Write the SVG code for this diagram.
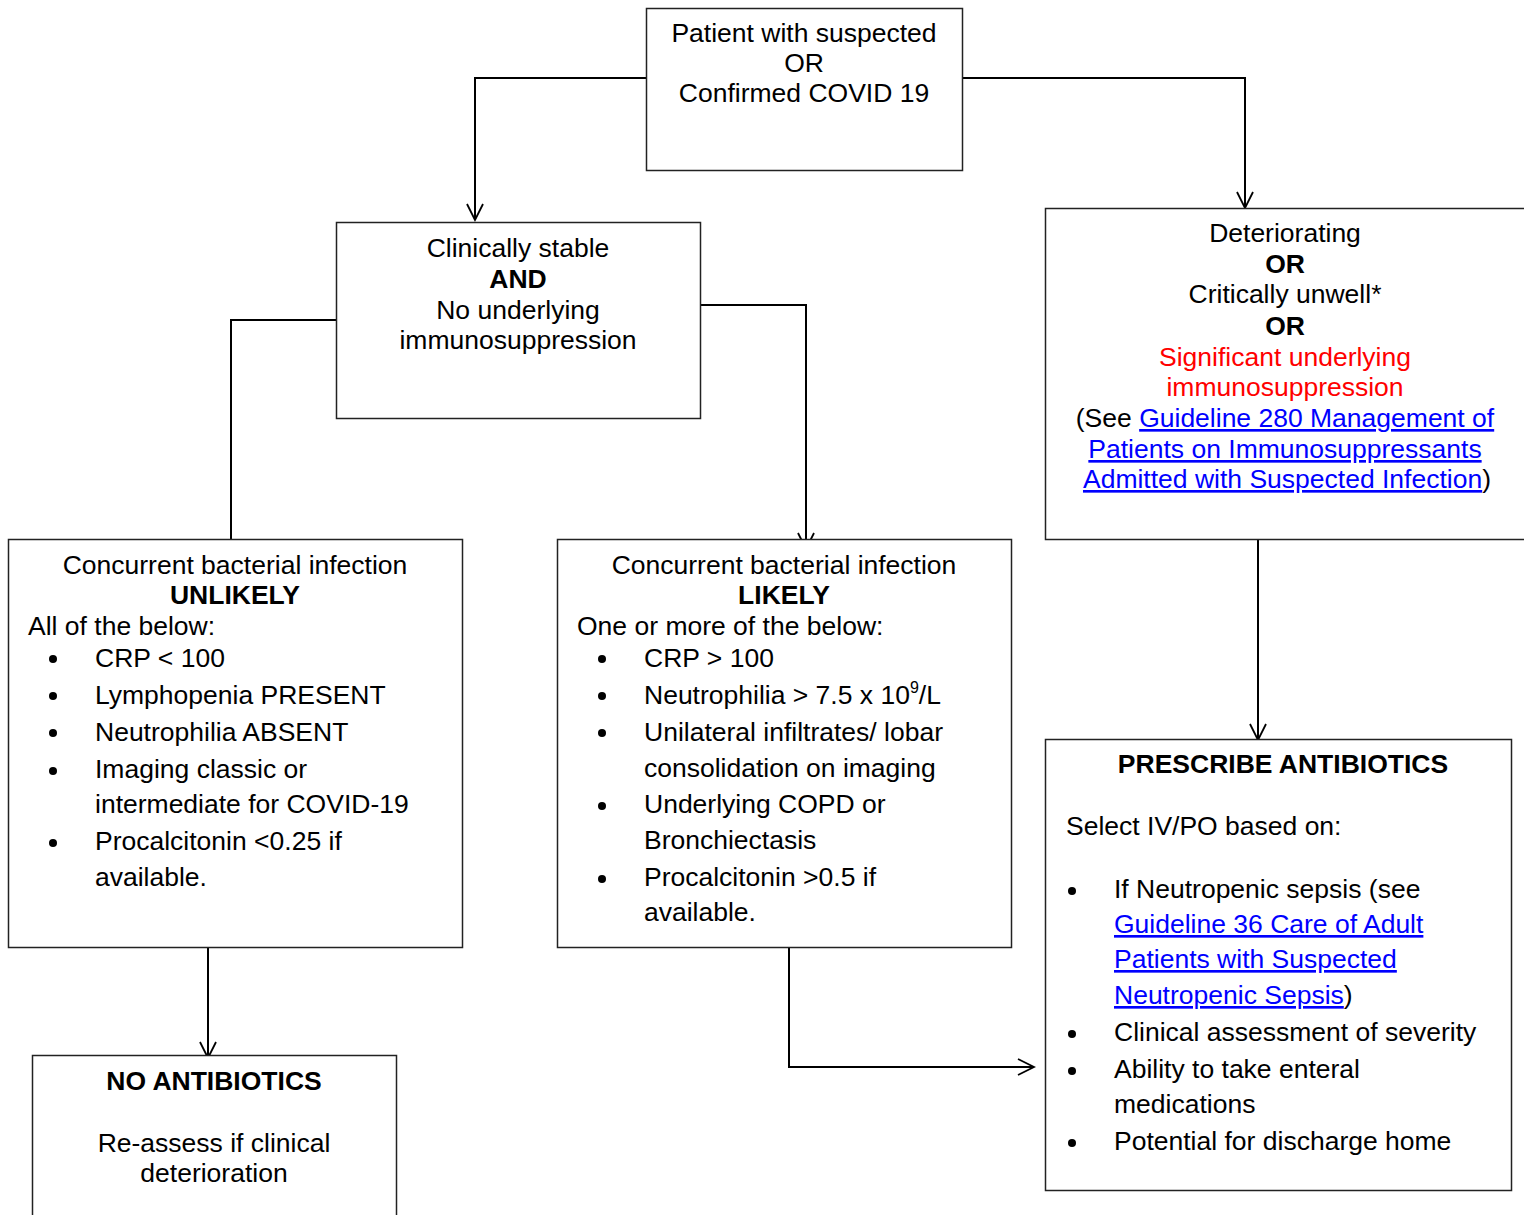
<svg xmlns="http://www.w3.org/2000/svg" width="1524" height="1215" viewBox="0 0 1524 1215">
<defs>
<style>
text{font-family:"Liberation Sans",Arial,sans-serif;font-size:26.5px;fill:#000}
.c{text-anchor:middle}
.b{font-weight:bold}
.red{fill:#FF0000}
.lk{fill:#0000FF;text-decoration:underline}
.box{fill:#fff;stroke:#222;stroke-width:1.5}
.ln{fill:none;stroke:#000;stroke-width:2}
.sup{font-size:16px}
</style>
<marker id="arr" viewBox="0 0 20 20" refX="18" refY="10" markerWidth="20" markerHeight="20" markerUnits="userSpaceOnUse" orient="auto">
<path d="M2,2 L18,10 L2,18" fill="none" stroke="#000" stroke-width="1.8"/>
</marker>
</defs>
<rect width="1524" height="1215" fill="#fff"/>
<g id="connectors">
<path class="ln" d="M646,78 H475 V220" marker-end="url(#arr)"/>
<path class="ln" d="M962,78 H1245 V208" marker-end="url(#arr)"/>
<path class="ln" d="M336,320 H231 V539"/>
<path class="ln" d="M700,305 H806 V549" marker-end="url(#arr)"/>
<path class="ln" d="M1258,539 V740" marker-end="url(#arr)"/>
<path class="ln" d="M208,947 V1058" marker-end="url(#arr)"/>
<path class="ln" d="M789,947 V1067 H1034" marker-end="url(#arr)"/>
</g>
<g id="start">
<rect class="box" x="646.5" y="8.5" width="316" height="162"/>
<text class="c" x="804" y="42">Patient with suspected</text>
<text class="c" x="804" y="72">OR</text>
<text class="c" x="804" y="102">Confirmed COVID 19</text>
</g>
<g id="stable">
<rect class="box" x="336.5" y="222.5" width="364" height="196"/>
<text class="c" x="518" y="257">Clinically stable</text>
<text class="c b" x="518" y="288">AND</text>
<text class="c" x="518" y="319">No underlying</text>
<text class="c" x="518" y="349">immunosuppression</text>
</g>
<g id="deteriorating">
<rect class="box" x="1045.5" y="208.5" width="490" height="331"/>
<text class="c" x="1285" y="242">Deteriorating</text>
<text class="c b" x="1285" y="273">OR</text>
<text class="c" x="1285" y="303">Critically unwell*</text>
<text class="c b" x="1285" y="335">OR</text>
<text class="c red" x="1285" y="366">Significant underlying</text>
<text class="c red" x="1285" y="396">immunosuppression</text>
<text class="c" x="1285" y="427">(See <tspan class="lk">Guideline 280 Management of</tspan></text>
<text class="c lk" x="1285" y="458">Patients on Immunosuppressants</text>
<text class="c" x="1287" y="488"><tspan class="lk">Admitted with Suspected Infection</tspan>)</text>
</g>
<g id="unlikely">
<rect class="box" x="8.5" y="539.5" width="454" height="408"/>
<text class="c" x="235" y="574">Concurrent bacterial infection</text>
<text class="c b" x="235" y="604">UNLIKELY</text>
<text x="28" y="635">All of the below:</text>
<circle cx="53" cy="659" r="4"/><text x="95" y="667">CRP &lt; 100</text>
<circle cx="53" cy="696" r="4"/><text x="95" y="704">Lymphopenia PRESENT</text>
<circle cx="53" cy="733" r="4"/><text x="95" y="741">Neutrophilia ABSENT</text>
<circle cx="53" cy="771" r="4"/><text x="95" y="778">Imaging classic or</text>
<text x="95" y="813">intermediate for COVID-19</text>
<circle cx="53" cy="843" r="4"/><text x="95" y="850">Procalcitonin &lt;0.25 if</text>
<text x="95" y="886">available.</text>
</g>
<g id="likely">
<rect class="box" x="557.5" y="539.5" width="454" height="408"/>
<text class="c" x="784" y="574">Concurrent bacterial infection</text>
<text class="c b" x="784" y="604">LIKELY</text>
<text x="577" y="635">One or more of the below:</text>
<circle cx="602" cy="659" r="4"/><text x="644" y="667">CRP &gt; 100</text>
<circle cx="602" cy="696" r="4"/><text x="644" y="704">Neutrophilia &gt; 7.5 x 10<tspan class="sup" dy="-11">9</tspan><tspan dy="11">/L</tspan></text>
<circle cx="602" cy="733" r="4"/><text x="644" y="741">Unilateral infiltrates/ lobar</text>
<text x="644" y="777">consolidation on imaging</text>
<circle cx="602" cy="806" r="4"/><text x="644" y="813">Underlying COPD or</text>
<text x="644" y="849">Bronchiectasis</text>
<circle cx="602" cy="879" r="4"/><text x="644" y="886">Procalcitonin &gt;0.5 if</text>
<text x="644" y="921">available.</text>
</g>
<g id="prescribe">
<rect class="box" x="1045.5" y="739.5" width="466" height="451"/>
<text class="c b" x="1283" y="773">PRESCRIBE ANTIBIOTICS</text>
<text x="1066" y="835">Select IV/PO based on:</text>
<circle cx="1072" cy="891" r="4"/><text x="1114" y="898">If Neutropenic sepsis (see</text>
<text class="lk" x="1114" y="933">Guideline 36 Care of Adult</text>
<text class="lk" x="1114" y="968">Patients with Suspected</text>
<text x="1114" y="1004"><tspan class="lk">Neutropenic Sepsis</tspan>)</text>
<circle cx="1072" cy="1034" r="4"/><text x="1114" y="1041">Clinical assessment of severity</text>
<circle cx="1072" cy="1071" r="4"/><text x="1114" y="1078">Ability to take enteral</text>
<text x="1114" y="1113">medications</text>
<circle cx="1072" cy="1143" r="4"/><text x="1114" y="1150">Potential for discharge home</text>
</g>
<g id="noabx">
<rect class="box" x="32.5" y="1055.5" width="364" height="170"/>
<text class="c b" x="214" y="1090">NO ANTIBIOTICS</text>
<text class="c" x="214" y="1152">Re-assess if clinical</text>
<text class="c" x="214" y="1182">deterioration</text>
</g>
</svg>
